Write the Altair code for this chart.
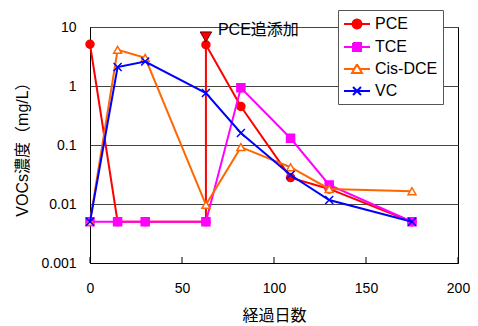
import math
import altair as alt
import pandas as pd

# ---- data ----
series_names = ["PCE", "TCE", "Cis-DCE", "VC"]
series_colors = ["#FF0000", "#FF00FF", "#FF6600", "#0000FF"]
series_fills = ["#FF0000", "#FF00FF", "#FFFFFF", "transparent"]

days_pce = [0, 15, 30, 63, 63, 82, 109, 130, 175]
pce = [5.1, 0.005, 0.005, 0.005, 5.0, 0.45, 0.028, 0.018, 0.005]

days = [0, 15, 30, 63, 82, 109, 130, 175]
tce = [0.005, 0.005, 0.005, 0.005, 0.93, 0.13, 0.021, 0.005]
cis_dce = [0.005, 4.1, 3.0, 0.0097, 0.092, 0.042, 0.018, 0.0165]
vc = [0.005, 2.1, 2.6, 0.76, 0.16, 0.031, 0.0117, 0.005]

note_day = [63]
note_conc = [6.8]
note_text = ["PCE追添加"]

x_ticks = [0, 50, 100, 150, 200]
y_ticks = [0.001, 0.01, 0.1, 1, 10]

rows = []
for name, xs, ys in [("PCE", days_pce, pce), ("TCE", days, tce),
                     ("Cis-DCE", days, cis_dce), ("VC", days, vc)]:
    for i, (d, c) in enumerate(zip(xs, ys)):
        rows.append({"series": name, "day": d, "conc": c, "idx": i})
df = pd.DataFrame(rows)
note_df = pd.DataFrame({"day": note_day, "conc": note_conc, "label": note_text})
tick_df = pd.DataFrame({"day": x_ticks})

FONT = "Liberation Sans, Noto Sans CJK JP"

X_PATH = "M-1,-1L1,1M-1,1L1,-1"
marker_shapes = ["circle", "square", "triangle-up", X_PATH]

# legend symbols: line + marker (marker centred at 0.625, line from -1 to 2.25), M/L only
def poly(pts):
    return "M" + "L".join(f"{x:.3f},{y:.3f}" for x, y in pts) + f"L{pts[0][0]:.3f},{pts[0][1]:.3f}"

circ = [(0.625 + 0.56 * math.cos(2 * math.pi * k / 16), 0.56 * math.sin(2 * math.pi * k / 16)) for k in range(16)]
leg_paths = [
    "M-1,0L2.25,0" + poly(circ),
    "M-1,0L2.25,0" + poly([(0.125, -0.5), (1.125, -0.5), (1.125, 0.5), (0.125, 0.5)]),
    "M-1,0L0.3,0M0.95,0L2.25,0" + poly([(0.625, -0.6), (1.25, 0.5), (0, 0.5)]),
    "M-1,0L2.25,0M0.125,-0.5L1.125,0.5M0.125,0.5L1.125,-0.5",
]

x_enc = alt.X(
    "day:Q",
    scale=alt.Scale(domain=[0, 200], nice=False, zero=False),
    axis=alt.Axis(values=x_ticks, title="経過日数", grid=False, labelFlush=False,
                  ticks=False, labelPadding=18, titlePadding=12),
)
y_enc = alt.Y(
    "conc:Q",
    scale=alt.Scale(type="log", domain=[0.001, 10], nice=False),
    axis=alt.Axis(values=y_ticks, title="VOCs濃度（mg/L）", grid=True, labelFlush=False,
                  gridColor="#444", gridWidth=1, ticks=False, labelPadding=14,
                  labelExpr="format(datum.value, '~g')", titlePadding=10),
)

# inward x ticks
ticks = alt.Chart(tick_df).mark_rule(color="black", strokeWidth=1).encode(
    x=x_enc, y=alt.value(236), y2=alt.value(230),
)

layers = [ticks]
for name, col, fil, shp in zip(series_names, series_colors, series_fills, marker_shapes):
    base = alt.Chart(df).transform_filter(alt.datum.series == name)
    layers.append(
        base.mark_line(strokeWidth=2, color=col).encode(
            x="day:Q", y=y_enc, order=alt.Order("idx:Q"))
    )
    layers.append(
        base.mark_point(size=64, strokeWidth=1.5, opacity=1, shape=shp, stroke=col, fill=fil)
        .encode(x="day:Q", y="conc:Q")
    )

leg = alt.Legend(
    title=None, orient="none", legendX=248, legendY=-17,
    labelFont=FONT, labelFontSize=16, labelColor="black",
    symbolSize=256, symbolStrokeWidth=2, labelOffset=14,
    rowPadding=5, padding=5, strokeColor="#555", fillColor="white",
    labelLimit=200,
)

# legend-only layer: no rows survive the filter, the legend comes from the explicit domains
legend_layer = alt.Chart(df).transform_filter(alt.datum.idx < 0).mark_point(
    size=256, strokeWidth=2, opacity=1,
).encode(
    x="day:Q", y="conc:Q",
    shape=alt.Shape("series:N", scale=alt.Scale(domain=series_names, range=leg_paths), legend=leg),
    fill=alt.Fill("series:N", scale=alt.Scale(domain=series_names, range=series_fills), legend=leg),
    stroke=alt.Stroke("series:N", scale=alt.Scale(domain=series_names, range=series_colors), legend=leg),
)

marker = alt.Chart(note_df).mark_point(
    shape="triangle-down", size=130, filled=True, fill="#FF0000",
    stroke="#600000", strokeWidth=1, opacity=1,
).encode(x="day:Q", y="conc:Q")

label = alt.Chart(note_df).mark_text(
    align="left", baseline="middle", dx=12, dy=-7, font=FONT, fontSize=16, color="black",
).encode(x="day:Q", y="conc:Q", text="label:N")

chart = alt.layer(*layers, legend_layer, marker, label).properties(
    width=368, height=236,
    autosize=alt.AutoSizeParams(type="none"),
    padding={"left": 90, "top": 27, "right": 20, "bottom": 63},
).configure_view(
    stroke="black", strokeWidth=1,
).configure_axis(
    labelFont=FONT, labelFontSize=14, labelColor="black",
    titleFont=FONT, titleFontSize=16, titleFontWeight="normal", titleColor="black",
    domainColor="black", domainWidth=1,
)

chart.save("out.html", embed_options={"renderer": "svg", "actions": False})
